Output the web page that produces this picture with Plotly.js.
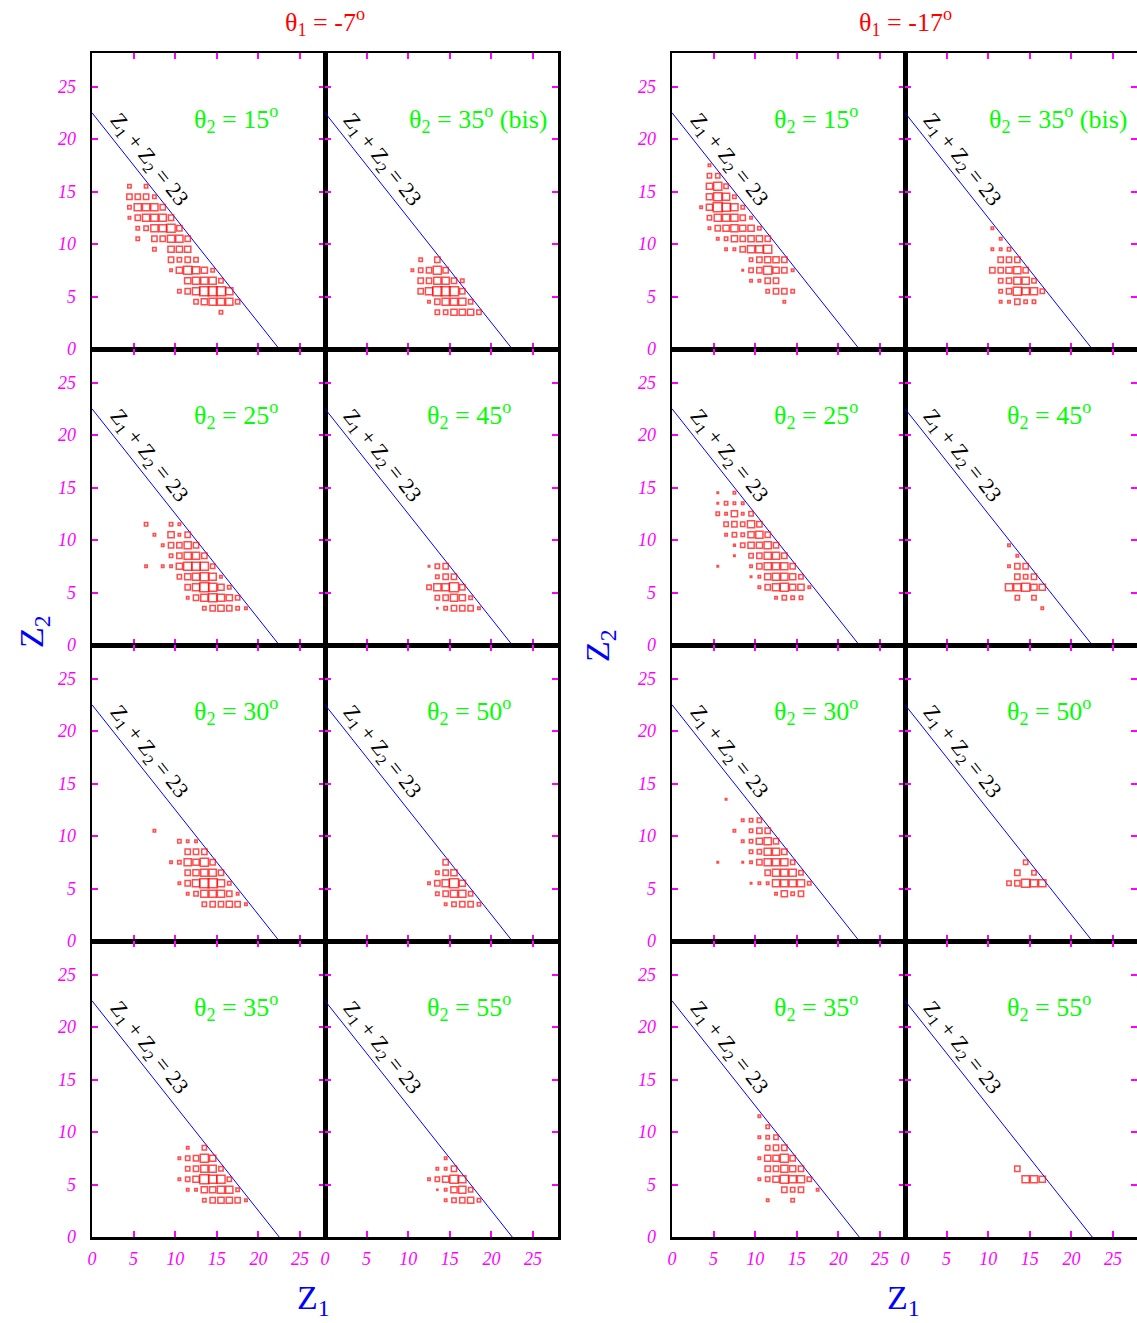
<!DOCTYPE html>
<html><head><meta charset="utf-8">
<script src="https://cdn.plot.ly/plotly-3.0.1.min.js"></script>
<style>html,body{margin:0;padding:0;background:#fff}#chart{width:1137px;height:1323px}</style>
</head><body><div id="chart"></div>
<script>
// ---------- DATA (Z1, Z2 bin, relative weight) ----------
const THETA1 = ['-7', '-17'];
const THETA2_COL1 = ['15', '25', '30', '35'];
const THETA2_COL2 = ['35', '45', '50', '55'];
const LINE_Z1 = [0, 22.5];
const LINE_Z2 = [22.5, 0];
const X_TICKS = [0, 5, 10, 15, 20, 25];
const Y_TICKS = [0, 5, 10, 15, 20, 25];

// theta1 = -7
const L15_Z1 = [4,6, 4,5,6,7, 4,5,6,7,8, 4,5,6,7,8,9, 5,6,7,8,9,10, 5,7,8,9,10,11, 7,9,10,11, 9,10,11,12, 9,10,11,12,13,14, 11,12,13,14,15, 10,11,12,13,14,15,16, 12,13,14,15,16,17, 15];
const L15_Z2 = [15,15, 14,14,14,14, 13,13,13,13,13, 12,12,12,12,12,12, 11,11,11,11,11,11, 10,10,10,10,10,10, 9,9,9,9, 8,8,8,8, 7,7,7,7,7,7, 6,6,6,6,6, 5,5,5,5,5,5,5, 4,4,4,4,4,4, 3];
const L15_W  = [2,2, 3,3,3,2, 2,4,4,4,3, 1.5,3,4,4,4,3, 2,2.5,4,4,4.5,3, 2,3,3,4,4,3, 2,3.5,3.5,3.5, 3,2.5,3,2.5, 1.5,3.5,4.5,4,3.5,2, 3.5,4,4,4,2.5, 2,3,4,5,5,5,4, 2.5,3.5,4,4,4,2.5, 2];

const L35B_Z1 = [11,13, 10,11,12,13,14, 11,12,13,14,15,16, 11,12,13,14,15,16, 12,13,14,15,16,17, 13,14,15,16,17,18];
const L35B_Z2 = [8,8, 7,7,7,7,7, 6,6,6,6,6,6, 5,5,5,5,5,5, 4,4,4,4,4,4, 3,3,3,3,3,3];
const L35B_W  = [2,3, 1.5,2.5,3,4.5,3, 3,3,4,4,3,2, 3,4,5,5,5,3, 1.5,3,4,4,4,2.5, 2.5,2.5,3.5,3.5,3.5,2.5];

const L25_Z1 = [6,9,10, 7,9,10,11, 8,9,10,11,12, 9,10,11,12,13, 6,8,9,10,11,12,13,14, 10,11,12,13,14,15, 11,12,13,14,15,16, 11,12,13,14,15,16,17, 13,14,15,16,17,18];
const L25_Z2 = [11,11,11, 10,10,10,10, 9,9,9,9,9, 8,8,8,8,8, 7,7,7,7,7,7,7,7, 6,6,6,6,6,6, 5,5,5,5,5,5, 4,4,4,4,4,4,4, 3,3,3,3,3,3];
const L25_W  = [2,2,1.5, 1.5,3.5,1.5,3, 1.5,3,3,4,3, 2,3,4,4,3, 1.5,1.5,1.5,3.5,4.5,4.5,4.5,2.5, 2.5,3.5,4,4.5,4,1.5, 3,4,5,4.5,3.5,2, 1.5,3,4,4.5,4,3.5,2.5, 2,3,3.5,3,2,1.5];

const L45_Z1 = [12,13,14, 13,14,15, 12,13,14,15,16, 13,14,15,16,17, 13,14,15,16,17,18];
const L45_Z2 = [7,7,7, 6,6,6, 5,5,5,5,5, 4,4,4,4,4, 3,3,3,3,3,3];
const L45_W  = [1,2.5,3, 2,3,3, 2.5,4,4,5,3, 2.5,3,4,3.5,2, 0.8,2,3,3,3,1.5];

const L30_Z1 = [7, 10,11,12, 11,12,13, 9,10,11,12,13,14, 11,12,13,14,15, 10,11,12,13,14,15,16, 11,12,13,14,15,16,17, 13,14,15,16,17,18];
const L30_Z2 = [10, 9,9,9, 8,8,8, 7,7,7,7,7,7, 6,6,6,6,6, 5,5,5,5,5,5,5, 4,4,4,4,4,4,4, 3,3,3,3,3,3];
const L30_W  = [1.5, 2,1.5,1.5, 3,3,3, 1.5,2,4,3.5,4.5,3, 3,3.5,4,4,3, 1.5,3,4,5,5,4,2, 1.5,2.5,4,4,4,3,1.5, 2.5,3,3,3.5,3,1.5];

const L50_Z1 = [14, 13,14,15, 12,13,14,15,16, 13,14,15,16,17, 14,15,16,17,18];
const L50_Z2 = [7, 6,6,6, 5,5,5,5,5, 4,4,4,4,4, 3,3,3,3,3];
const L50_W  = [3, 2,3,3.5, 1.5,3,4,5,3.5, 2,3,4,4,2.5, 1.5,2.5,3,3,2];

const L35_Z1 = [11,13, 10,11,12,13,14, 11,12,13,14,15, 10,11,12,13,14,15,16, 11,12,13,14,15,16,17, 13,14,15,16,17,18];
const L35_Z2 = [8,8, 7,7,7,7,7, 6,6,6,6,6, 5,5,5,5,5,5,5, 4,4,4,4,4,4,4, 3,3,3,3,3,3];
const L35_W  = [1.5,2.5, 1.5,2.5,3,4.5,3.5, 2.5,3,4,4,2.5, 1.5,2.5,3.5,5,4.5,4.5,2.5, 1.5,1.5,3.5,3.5,4,4,2, 2,3,3.5,3.5,3,1.5];

const L55_Z1 = [14, 13,14,15, 12,13,14,15,16, 13,14,15,16,17, 14,15,16,17,18];
const L55_Z2 = [7, 6,6,6, 5,5,5,5,5, 4,4,4,4,4, 3,3,3,3,3];
const L55_W  = [1.5, 1.5,1.5,3, 1.5,2.5,3.5,4.5,4, 0.8,1.5,3.5,4,2.5, 1.5,2.5,3,3.5,2];

// theta1 = -17
const R15_Z1 = [4, 4,5, 4,5,6, 4,5,6,7, 3,4,5,6,7,8, 4,5,6,7,8,9, 4,5,6,7,8,9,10, 5,6,7,8,9,10,11, 6,7,8,9,10,11, 9,10,11,12,13, 8,9,10,11,12,13,14, 9,10,11,12, 11,12,13,14, 13];
const R15_Z2 = [17, 16,16, 15,15,15, 14,14,14,14, 13,13,13,13,13,13, 12,12,12,12,12,12, 11,11,11,11,11,11,11, 10,10,10,10,10,10,10, 9,9,9,9,9,9, 8,8,8,8,8, 7,7,7,7,7,7,7, 6,6,6,6, 5,5,5,5, 4];
const R15_W  = [1.5, 2.5,2.5, 3.5,4.5,2.5, 3.5,4.5,4,2, 1.5,3.5,5,4.5,4,2, 2.5,4,4,4,3,1.5, 1.5,3,3.5,4,3.5,3.5,2, 1.5,2,3.5,3,3.5,3.5,3, 1.5,1.5,3,4,4,4.5, 2,3,3.5,3.5,3, 1,2.5,3,4.5,3.5,3,1.5, 1.5,1.5,3,3, 2,3,3,2, 1.5];

const R35B_Z1 = [10, 11, 10,11,12, 11,12,13, 10,11,12,13,14, 11,12,13,14,15, 11,12,13,14,15,16, 11,12,13,14,15];
const R35B_Z2 = [11, 10, 9,9,9, 8,8,8, 7,7,7,7,7, 6,6,6,6,6, 5,5,5,5,5,5, 4,4,4,4,4];
const R35B_W  = [1.5, 1.5, 1.5,1.5,2, 3,3,3, 3,3,3.5,4,3, 2.5,3,4,4,2.5, 2,3,4.5,4,4,2.5, 1.5,1.5,3,2,2];

const R25_Z1 = [5,7, 5,6,7,8, 5,6,7,8,9, 6,7,8,9,10, 6,7,8,9,10,11, 7,8,9,10,11,12, 7,9,10,11,12,13, 5,9,10,11,12,13,14, 9,10,11,12,13,14,15, 10,11,12,13,14,15,16, 12,13,14,15];
const R25_Z2 = [14,14, 13,13,13,13, 12,12,12,12,12, 11,11,11,11,11, 10,10,10,10,10,10, 9,9,9,9,9,9, 8,8,8,8,8,8, 7,7,7,7,7,7,7, 6,6,6,6,6,6,6, 5,5,5,5,5,5,5, 4,4,4,4];
const R25_W  = [1,1.5, 1,2,1.5,1.5, 2,1.5,3.5,1.5,2.5, 2.5,3,2.5,4,3, 1.5,2.5,2,3.5,4,3, 1.2,2.5,3.5,3.5,4,3, 1,2.5,3,4,4,3, 1,1.5,3,4,4,4,3, 1,1.5,3.5,4,4,3.5,2.5, 1.5,3,4,4.5,3.5,3.5,1.5, 1.5,2.5,2,2];

const R45_Z1 = [12, 13, 12,13,14, 13,14,15, 12,13,14,15,16, 13,15, 16];
const R45_Z2 = [9, 8, 7,7,7, 6,6,6, 5,5,5,5,5, 4,4, 3];
const R45_W  = [1.5, 1.5, 1.5,3,3, 3,2.5,3, 4,4,4.5,3.5,3.5, 2.5,2.5, 1.5];

const R30_Z1 = [6, 8,9,10, 7,9,10,11, 8,9,10,11,12, 9,10,11,12,13, 5,8,9,10,11,12,13,14, 11,12,13,14,15, 9,10,11,12,13,14,15,16, 12,13,14,15];
const R30_Z2 = [13, 11,11,11, 10,10,10,10, 9,9,9,9,9, 8,8,8,8,8, 7,7,7,7,7,7,7,7, 6,6,6,6,6, 5,5,5,5,5,5,5,5, 4,4,4,4];
const R30_W  = [1, 1.5,2,2.5, 1.5,2,3,3, 1.5,2,3.5,4,3, 2,2.5,4,4,3, 1,1,1.5,3,4,4,4,2.5, 3,4,4,4,2.5, 1,1.5,1.5,4,4,4,4,2, 1.5,3.5,2,3];

const R50_Z1 = [14, 13,15, 12,13,14,15,16];
const R50_Z2 = [7, 6,6, 5,5,5,5,5];
const R50_W  = [2.5, 3,2.5, 2.5,3,4.5,4,4];

const R35_Z1 = [10, 11, 10,11,12, 11,12,13, 10,11,12,13,14, 11,12,13,14,15, 10,11,12,13,14,15,16, 13,14,15,17, 11,14];
const R35_Z2 = [11, 10, 9,9,9, 8,8,8, 7,7,7,7,7, 6,6,6,6,6, 5,5,5,5,5,5,5, 4,4,4,4, 3,3];
const R35_W  = [1.5, 2, 1.5,2,2.5, 2.5,3,3, 1.5,3.5,3.5,4.5,3, 3,3,4,3.5,3, 1.5,2.5,3.5,4.5,4,4,2.5, 3,2.5,3,1.5, 1.5,2];

const R55_Z1 = [13, 14,15,16];
const R55_Z2 = [6, 5,5,5];
const R55_W  = [3, 4,4,3.5];

// panel order: block (0 left,1 right) -> row -> col
const PANELS = [
  [[L15_Z1,L15_Z2,L15_W],[L35B_Z1,L35B_Z2,L35B_W]],
  [[L25_Z1,L25_Z2,L25_W],[L45_Z1,L45_Z2,L45_W]],
  [[L30_Z1,L30_Z2,L30_W],[L50_Z1,L50_Z2,L50_W]],
  [[L35_Z1,L35_Z2,L35_W],[L55_Z1,L55_Z2,L55_W]],
  [[R15_Z1,R15_Z2,R15_W],[R35B_Z1,R35B_Z2,R35B_W]],
  [[R25_Z1,R25_Z2,R25_W],[R45_Z1,R45_Z2,R45_W]],
  [[R30_Z1,R30_Z2,R30_W],[R50_Z1,R50_Z2,R50_W]],
  [[R35_Z1,R35_Z2,R35_W],[R55_Z1,R55_Z2,R55_W]]
];

// ---------- LAYOUT ----------
const W = 1137, H = 1323;
const COLX = [92, 325, 672, 905];
const ROWZERO = [349, 645, 941, 1237];
const PANEL_W = 233, PANEL_H = 296;
const PX_PER_X = PANEL_W / 28, PX_PER_Y = 10.5;
const BIN_CENTER = 0.5;
const FONT = 'Liberation Serif, Times New Roman, serif';
const MAG = '#ff00ff';

const traces = [];
const layout = {
  width: W, height: H, margin: {l:0, r:0, t:0, b:0},
  paper_bgcolor: '#fff', plot_bgcolor: '#fff', showlegend: false,
  font: {family: FONT}, annotations: []
};
const tickfont = {family: FONT, size: 18, color: MAG, style: 'italic'};

let n = 0;
for (let b = 0; b < 2; b++) {
  for (let r = 0; r < 4; r++) {
    for (let c = 0; c < 2; c++) {
      n++;
      const sfx = n === 1 ? '' : String(n);
      const x0 = COLX[b*2 + c];
      const x1 = Math.min(x0 + PANEL_W, W);
      const zero = ROWZERO[r];
      const xdom = [x0 / W, x1 / W];
      const ydom = [1 - zero / H, 1 - (zero - PANEL_H) / H];
      const axCommon = {
        ticks: 'inside', ticklen: 6, tickwidth: 2, tickcolor: MAG,
        showline: true, mirror: 'ticks', linecolor: '#000', linewidth: 2.5,
        showgrid: false, zeroline: false, tickfont: tickfont, fixedrange: true
      };
      layout['xaxis' + sfx] = Object.assign({}, axCommon, {
        domain: xdom, range: [0, (x1 - x0) / PX_PER_X], anchor: 'y' + sfx,
        tickmode: 'array', tickvals: X_TICKS, ticktext: X_TICKS.map(String),
        showticklabels: r === 3, ticklabelstandoff: 4
      });
      layout['yaxis' + sfx] = Object.assign({}, axCommon, {
        domain: ydom, range: [0, PANEL_H / PX_PER_Y], anchor: 'x' + sfx,
        tickmode: 'array', tickvals: Y_TICKS, ticktext: Y_TICKS.map(String),
        showticklabels: c === 0, ticklabelstandoff: 10
      });
      const d = PANELS[b*4 + r][c];
      traces.push({
        type: 'scatter', mode: 'lines', x: LINE_Z1, y: LINE_Z2,
        xaxis: 'x' + sfx, yaxis: 'y' + sfx, hoverinfo: 'skip',
        line: {color: '#0000ff', width: 1}
      });
      traces.push({
        type: 'scatter', mode: 'markers',
        x: d[0].map(v => v + BIN_CENTER), y: d[1].map(v => v + BIN_CENTER),
        xaxis: 'x' + sfx, yaxis: 'y' + sfx,
        marker: {symbol: 'square-open', color: '#ff0000',
                 size: d[2].map(w => Math.max(1.9 * w - 0.4, 1)),
                 line: {color: '#ff0000', width: 1.5}}
      });
      const bis = (c === 1 && r === 0);
      const t2 = c === 0 ? THETA2_COL1[r] : THETA2_COL2[r];
      layout.annotations.push({
        xref: 'x' + sfx, yref: 'y' + sfx, x: bis ? 9.9 : 12.0, y: 21.9,
        xanchor: 'left', yanchor: 'middle', showarrow: false,
        text: 'θ<sub>2</sub> = ' + t2 + '<sup>o</sup>' + (bis ? ' (bis)' : ''),
        font: {family: FONT, size: 26, color: '#00ff00'}
      });
      layout.annotations.push({
        xref: 'x' + sfx, yref: 'y' + sfx, x: 6.8, y: 18.0,
        showarrow: false, textangle: 51.6,
        text: 'Z<sub>1</sub> + Z<sub>2</sub> = 23',
        font: {family: FONT, size: 22, color: '#000'}
      });
    }
  }
  // block titles
  const cx = COLX[b*2 + 1];
  layout.annotations.push({
    xref: 'paper', yref: 'paper', x: cx / W, y: 1 - 22 / H,
    xanchor: 'center', yanchor: 'middle', showarrow: false,
    text: 'θ<sub>1</sub> = ' + THETA1[b] + '<sup>o</sup>',
    font: {family: FONT, size: 26, color: '#ff0000'}
  });
  layout.annotations.push({
    xref: 'paper', yref: 'paper', x: (b === 0 ? 34 : 600) / W, y: 1 - (b === 0 ? 632 : 646) / H,
    xanchor: 'center', yanchor: 'middle', showarrow: false, textangle: -90,
    text: 'Z<sub>2</sub>', font: {family: FONT, size: 34, color: '#0000ff'}
  });
  layout.annotations.push({
    xref: 'paper', yref: 'paper', x: (b === 0 ? 313 : 903) / W, y: 1 - 1300 / H,
    xanchor: 'center', yanchor: 'middle', showarrow: false,
    text: 'Z<sub>1</sub>', font: {family: FONT, size: 34, color: '#0000ff'}
  });
}

Plotly.newPlot('chart', traces, layout, {staticPlot: true, displayModeBar: false});
</script>
</body></html>
